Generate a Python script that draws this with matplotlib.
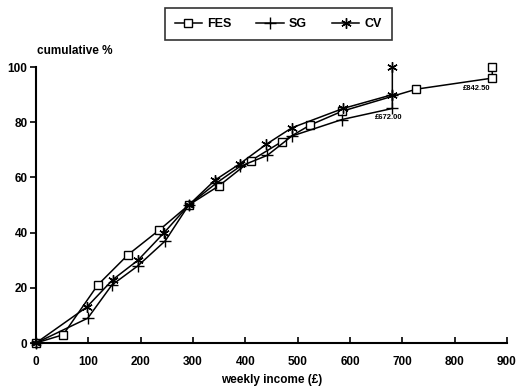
import matplotlib
matplotlib.use('Agg')
import matplotlib.pyplot as plt

# cumulative % of households by weekly income, three surveys
fes_x = [0, 52, 118, 176, 236, 292, 350, 410, 470, 524, 585, 727, 872, 872]
fes_y = [0, 3, 21, 32, 41, 50, 57, 66, 73, 79, 84, 92, 96, 100]

sg_x = [0, 99, 145, 195, 247, 292, 345, 390, 442, 489, 585, 681, 681]
sg_y = [0, 9, 21, 28, 37, 50, 58, 64, 68, 75, 81, 85, 90]

cv_x = [0, 97, 147, 195, 245, 292, 342, 390, 440, 489, 587, 681, 681]
cv_y = [0, 13, 23, 30, 40, 50, 59, 65, 72, 78, 85, 90, 100]

xticks = [0, 100, 200, 300, 400, 500, 600, 700, 800, 900]
yticks = [0, 20, 40, 60, 80, 100]

plt.rcParams['font.family'] = ['Liberation Sans', 'DejaVu Sans']
plt.rcParams['font.weight'] = 'bold'

fig = plt.figure(figsize=(5.21, 3.90), dpi=100)
ax = fig.add_axes([0.069, 0.1205, 0.904, 0.7075])

ax.plot(fes_x, fes_y, color='black', lw=1.1, marker='s', ms=5.5, mfc='white',
        mec='black', mew=1.0, label='FES', clip_on=False)
ax.plot(sg_x, sg_y, color='black', lw=1.1, marker='+', ms=9, mew=1.0,
        label='SG', clip_on=False)
ax.plot(cv_x, cv_y, color='black', lw=1.1, marker=(6, 2, 0), ms=7.5, mew=1.0,
        label='CV', clip_on=False)

ax.text(674, 83, '£672.00', fontsize=5.5, fontweight='bold', ha='center', va='top')
ax.text(842, 93.5, '£842.50', fontsize=5.5, fontweight='bold', ha='center', va='top')

ax.set_xlim(0, 900)
ax.set_ylim(0, 100)
ax.set_xticks(xticks)
ax.set_yticks(yticks)
ax.tick_params(axis='x', direction='in', length=4, width=1.2, labelsize=8.5, pad=9)
ax.tick_params(axis='y', direction='out', length=4, width=1.2, labelsize=8.5, pad=2)
for s in ['top', 'right']:
    ax.spines[s].set_visible(False)
for s in ['left', 'bottom']:
    ax.spines[s].set_linewidth(1.5)

ax.set_xlabel('weekly income (£)', fontsize=8.5, fontweight='bold', labelpad=5)
ax.text(0.003, 1.035, 'cumulative %', transform=ax.transAxes, fontsize=8.5,
        fontweight='bold', ha='left', va='bottom')

leg = fig.legend(loc='center', bbox_to_anchor=(0.534, 0.938), ncol=3,
                 frameon=True, fancybox=False, edgecolor='black',
                 fontsize=9, handlelength=2.2, columnspacing=2.0,
                 borderpad=0.8, handletextpad=0.4)
leg.get_frame().set_linewidth(1.2)

plt.savefig('out.png', dpi=100)
